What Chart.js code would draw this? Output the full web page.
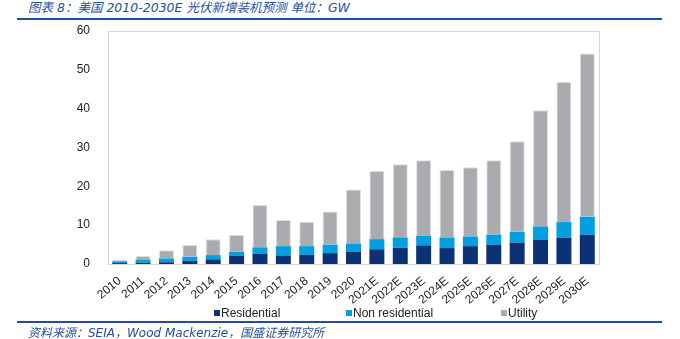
<!DOCTYPE html>
<html>
<head>
<meta charset="utf-8">
<script src="https://cdn.jsdelivr.net/npm/chart.js@4"></script>
<style>
  body { margin: 0; background: #fff; }
  #wrap { position: relative; width: 680px; height: 339px; overflow: hidden; }
  #chart { position: absolute; left: 0; top: 0; }
  .title, .source {
    position: absolute; left: 28px; color: #1f4e9c; font-style: italic;
    font-family: "DejaVu Sans", "Noto Sans CJK SC", sans-serif; white-space: nowrap;
  }
  .title { top: -3px; font-size: 12.5px; }
  .source { top: 323px; font-size: 12px; }
  .rule { position: absolute; left: 17px; width: 645px; height: 2px; background: #1f4e9c; }
  .leg { position: absolute; top: 306px; font: 12px "Liberation Sans", Arial, sans-serif; color: #222; white-space: nowrap; }
  .leg i { display: inline-block; width: 6px; height: 6px; margin-right: 1px; vertical-align: 1px; }
</style>
</head>
<body>
<div id="wrap">
  <div class="title">图表 8：美国 2010-2030E 光伏新增装机预测 单位：GW</div>
  <div class="rule" style="top:18px"></div>
  <canvas id="chart" width="680" height="339"></canvas>
  <div class="leg" style="left:214px"><i style="background:#0b3274"></i>Residential</div>
  <div class="leg" style="left:346px"><i style="background:#00a0e0"></i>Non residential</div>
  <div class="leg" style="left:501px"><i style="background:#a9abaf"></i>Utility</div>
  <div class="rule" style="top:321px"></div>
  <div class="source">资料来源：SEIA，Wood Mackenzie，国盛证券研究所</div>
</div>
<script>
const years = ["2010", "2011", "2012", "2013", "2014", "2015", "2016", "2017", "2018", "2019", "2020",
  "2021E", "2022E", "2023E", "2024E", "2025E", "2026E", "2027E", "2028E", "2029E", "2030E"];
const residential = [0.25, 0.3, 0.45, 0.8, 1.2, 2.1, 2.6, 2.2, 2.4, 2.8, 3.2,
  3.8, 4.2, 4.8, 4.1, 4.6, 5.0, 5.5, 6.2, 6.8, 7.5];
const nonResidential = [0.45, 0.75, 1.0, 1.1, 1.1, 1.1, 1.7, 2.4, 2.2, 2.2, 2.1,
  2.6, 2.65, 2.5, 2.75, 2.5, 2.6, 2.8, 3.5, 4.0, 4.7];
const utility = [0.3, 1.0, 2.1, 3.0, 4.1, 4.3, 10.9, 6.7, 6.3, 8.5, 13.9,
  17.6, 18.85, 19.4, 17.35, 17.8, 19.1, 23.3, 29.9, 36.1, 42.0];
const yTicks = [0, 10, 20, 30, 40, 50, 60];

// frame around the plot area
const framePlugin = {
  id: "frame",
  afterDraw(chart) {
    const { ctx, chartArea: a } = chart;
    ctx.save();
    ctx.strokeStyle = "#d4d4d4";
    ctx.lineWidth = 1;
    ctx.strokeRect(Math.round(a.left) + 0.5, Math.round(a.top) + 0.5,
      Math.round(a.right - a.left), Math.round(a.bottom - a.top));
    ctx.restore();
  },
};

const barOpts = { barPercentage: 0.64, categoryPercentage: 1 };

new Chart(document.getElementById("chart"), {
  type: "bar",
  data: {
    labels: years,
    datasets: [
      { label: "Residential", data: residential, backgroundColor: "#0b3274", ...barOpts },
      { label: "Non residential", data: nonResidential, backgroundColor: "#00a0e0", ...barOpts },
      {
        label: "Utility", data: utility, backgroundColor: "#a9abaf",
        borderColor: "#dedede", borderWidth: { top: 1, left: 1, right: 1, bottom: 0 },
        ...barOpts,
      },
    ],
  },
  options: {
    responsive: false,
    animation: false,
    layout: { padding: { left: 58, right: 81, top: 31, bottom: 35 } },
    plugins: { legend: { display: false }, tooltip: { enabled: false } },
    scales: {
      x: {
        stacked: true,
        grid: { display: false },
        border: { display: false },
        ticks: {
          autoSkip: false,
          minRotation: 40, maxRotation: 40, padding: 2,
          color: "#222", font: { family: "Liberation Sans", size: 12 },
        },
        afterFit(scale) { scale.height = 40; },
      },
      y: {
        stacked: true,
        min: 0, max: 60,
        grid: { display: false },
        border: { display: false },
        afterBuildTicks(scale) { scale.ticks = yTicks.map((v) => ({ value: v })); },
        ticks: { padding: 10, color: "#222", font: { family: "Liberation Sans", size: 12 } },
        afterFit(scale) { scale.width = 50; },
      },
    },
  },
  plugins: [framePlugin],
});
</script>
</body>
</html>
